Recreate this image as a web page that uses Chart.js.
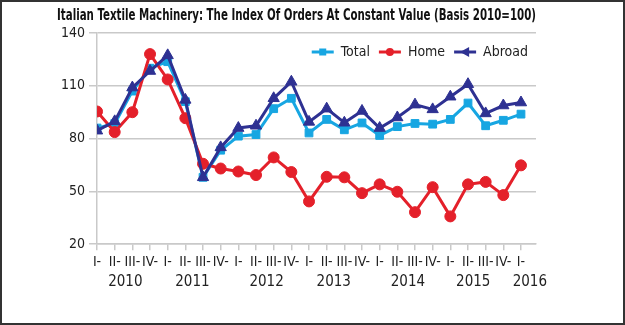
<!DOCTYPE html>
<html>
<head>
<meta charset="utf-8">
<script src="https://cdn.jsdelivr.net/npm/chart.js@4"></script>
<style>
  html, body { margin: 0; padding: 0; background: #fff; }
  #wrap { position: relative; width: 625px; height: 325px; }
  #frame { position: absolute; left: 0; top: 0; width: 625px; height: 325px;
           box-sizing: border-box; border: 2px solid #333; pointer-events: none; }
</style>
</head>
<body>
<div id="wrap">
  <canvas id="chart" width="625" height="325"></canvas>
  <div id="frame"></div>
</div>
<script>
const quarters = ["I-", "II-", "III-", "IV-", "I-", "II-", "III-", "IV-",
                  "I-", "II-", "III-", "IV-", "I-", "II-", "III-", "IV-",
                  "I-", "II-", "III-", "IV-", "I-", "II-", "III-", "IV-", "I-"];
const years = ["2010", "2011", "2012", "2013", "2014", "2015", "2016"];

const total  = [86, 88.5, 107, 120, 123.7, 101, 58, 73.4, 81.4, 82.3, 97, 102.9,
                83.2, 90.9, 85, 88.9, 81.8, 86.8, 88.6, 88.2, 90.9, 100.2, 87.3, 90.4, 93.9];
const home   = [95.4, 83.7, 95, 128, 113.6, 91.6, 65.7, 63, 61.3, 59.3, 69.3, 61,
                44.3, 58.3, 58, 49, 54, 49.8, 38.2, 52.4, 35.8, 54, 55.4, 47.9, 64.8];
const abroad = [84.5, 89.8, 109, 118.4, 127.3, 102, 58, 75, 86, 87.3, 102.9, 112.3,
                89.5, 97, 89, 95.7, 86, 92, 99.3, 96.6, 103.8, 110.9, 94.3, 98.8, 100.5];

const COLORS = { total: "#17a6e2", home: "#e4202a", abroad: "#2e3192" };
const MARKERS = ["rect", "circle", "tri"];
const NARROW = "'Liberation Sans Narrow', 'DejaVu Sans Condensed', sans-serif";
const GRID = "#c9c9c9";

// where the year captions sit, in quarter-index units
const YEAR_POS = [1.6, 5.4, 9.6, 13.4, 17.6, 21.3, 24.5];

Chart.defaults.font.family = NARROW;
Chart.defaults.color = "#222";

function toPoints(arr) {
  return arr.map((v, i) => ({ x: i, y: v }));
}

function drawSwatch(g, x, y, color, marker) {
  g.strokeStyle = color; g.fillStyle = color; g.lineWidth = 3;
  g.beginPath(); g.moveTo(x, y); g.lineTo(x + 22, y); g.stroke();
  g.beginPath();
  if (marker === "rect") g.rect(x + 7.5, y - 3.5, 7, 7);
  else if (marker === "circle") g.arc(x + 11, y, 4, 0, Math.PI * 2);
  else { g.moveTo(x + 6, y); g.lineTo(x + 15, y - 5); g.lineTo(x + 15, y + 5); g.closePath(); }
  g.fill();
}

// legend drawn inside the plot, top right, in one row
const insideLegend = {
  id: "insideLegend",
  afterDatasetsDraw(chart) {
    const ctx = chart.ctx;
    const area = chart.chartArea;
    ctx.save();
    ctx.font = "14px " + NARROW;
    ctx.textBaseline = "middle";
    const sets = chart.data.datasets;
    const widths = sets.map(d => 22 + 7 + ctx.measureText(d.label).width);
    let x = area.right - 8 - widths.reduce((a, b) => a + b, 0) - 9 * (sets.length - 1);
    const y = area.top + 19;
    sets.forEach((d, i) => {
      drawSwatch(ctx, x, y, d.borderColor, MARKERS[i]);
      ctx.fillStyle = "#222";
      ctx.fillText(d.label, x + 29, y);
      x += widths[i] + 9;
    });
    ctx.restore();
  },
};

const yearLabels = {
  id: "yearLabels",
  afterDraw(chart) {
    const x = chart.scales.x;
    const ctx = chart.ctx;
    ctx.save();
    ctx.font = "15px " + NARROW;
    ctx.fillStyle = "#222";
    ctx.textAlign = "center";
    ctx.textBaseline = "middle";
    years.forEach((y, i) => ctx.fillText(y, x.getPixelForValue(YEAR_POS[i]), x.top + 38));
    ctx.restore();
  },
};

function lineSet(label, data, color, style, radius, order) {
  return {
    label,
    data: toPoints(data),
    borderColor: color,
    backgroundColor: color,
    borderWidth: 3,
    pointStyle: style,
    pointRadius: radius,
    pointBorderWidth: 1,
    tension: 0,
    order,
  };
}

new Chart(document.getElementById("chart"), {
  type: "line",
  data: {
    datasets: [
      lineSet("Total", total, COLORS.total, "rect", 5.5, 2),
      lineSet("Home", home, COLORS.home, "circle", 5.5, 1),
      lineSet("Abroad", abroad, COLORS.abroad, "triangle", 6.5, 0),
    ],
  },
  options: {
    responsive: false,
    animation: false,
    layout: { padding: { left: 57, right: 89, top: 5, bottom: 50 } },
    plugins: {
      tooltip: { enabled: false },
      legend: { display: false },
      title: {
        display: true,
        text: "Italian Textile Machinery: The Index Of Orders At Constant Value (Basis 2010=100)",
        color: "#111",
        font: { size: 15, weight: "bold", family: NARROW },
        padding: { top: 2, bottom: 8 },
      },
    },
    scales: {
      x: {
        type: "linear",
        min: 0,
        max: 24.85,
        grid: { drawOnChartArea: false, color: GRID, tickLength: 6, lineWidth: 1.5 },
        border: { color: GRID, width: 1.5 },
        ticks: {
          stepSize: 1,
          includeBounds: false,
          autoSkip: false,
          maxRotation: 0,
          padding: 4,
          font: { size: 14 },
          callback: (v) => quarters[v] ?? "",
        },
      },
      y: {
        min: 20,
        max: 140,
        grid: { color: GRID, tickLength: 8, lineWidth: 1.5 },
        border: { color: GRID, width: 1.5 },
        ticks: { stepSize: 30, padding: 4, font: { size: 14 } },
      },
    },
  },
  plugins: [insideLegend, yearLabels],
});
</script>
</body>
</html>
